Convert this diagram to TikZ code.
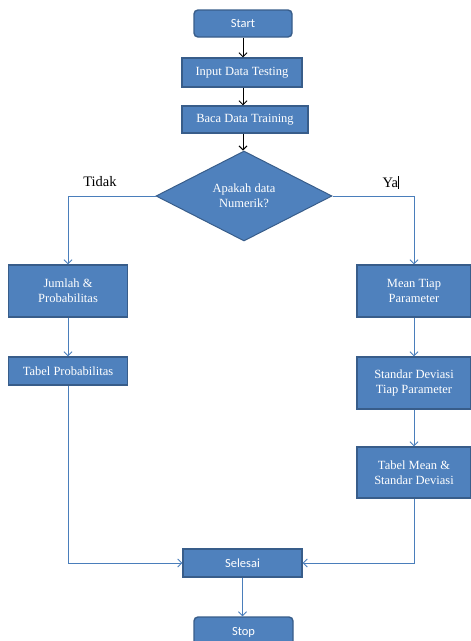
\documentclass[tikz,border=0pt]{standalone}
\usepackage{fontspec}
\setmainfont{Liberation Serif}
\newfontfamily\calfont{Carlito}
\usetikzlibrary{shapes.geometric,arrows.meta}
\definecolor{boxfill}{HTML}{4F81BD}
\definecolor{boxedge}{HTML}{385D8A}
\definecolor{linkblue}{HTML}{4A7EBB}
\begin{document}
\begin{tikzpicture}[x=1pt,y=-1pt,
  every node/.style={inner sep=0pt},
  proc/.style={rectangle,fill=boxfill,draw=boxedge,line width=1.4pt,text=white,
    align=center,font=\fontsize{12.5}{15}\selectfont},
  term/.style={proc,rounded corners=4pt,font=\calfont\fontsize{12.5}{15}\selectfont},
  decis/.style={diamond,fill=boxfill,draw=boxedge,line width=1pt,text=white,
    align=center,font=\fontsize{12.5}{15}\selectfont,minimum width=176pt,minimum height=90pt,aspect=1.95},
  blk/.style={draw=black,line width=0.9pt,-{Straight Barb[length=4pt,width=8pt]}},
  blu/.style={draw=linkblue,line width=0.9pt,-{Straight Barb[length=4pt,width=8pt]}},
  lab/.style={font=\fontsize{14.5}{15}\selectfont,text=black}]
\useasboundingbox (0,0) rectangle (471,641);
\node[term,minimum width=98pt,minimum height=27pt] (start) at (243,23.5) {Start};
\node[proc,minimum width=120pt,minimum height=29pt] (input) at (242,72.5) {Input Data Testing};
\node[proc,minimum width=126pt,minimum height=27pt] (baca) at (245,119.5) {Baca Data Training};
\node[decis] (dia) at (244,196) {Apakah data\\Numerik?};
\node[proc,minimum width=119pt,minimum height=52pt] (jumlah) at (68,291) {Jumlah \&\\Probabilitas};
\node[proc,minimum width=119pt,minimum height=28pt] (tabelp) at (68,371) {Tabel Probabilitas};
\node[proc,minimum width=114pt,minimum height=52pt] (mean) at (414,291) {Mean Tiap\\Parameter};
\node[proc,minimum width=114pt,minimum height=52pt] (std) at (414,383) {Standar Deviasi\\Tiap Parameter};
\node[proc,minimum width=114pt,minimum height=51pt] (tabm) at (414,472.5) {Tabel Mean \&\\Standar Deviasi};
\node[term,font=\calfont\fontsize{12.5}{15}\selectfont,rounded corners=0pt,minimum width=119pt,minimum height=28pt] (selesai) at (242.5,563) {Selesai};
\node[term,minimum width=99pt,minimum height=30pt] (stop) at (243.5,632) {Stop};
\node[lab] (tidak) at (100,182) {Tidak};
\node[lab] (ya) at (391,182) {Ya\rule[-1.5pt]{1.2pt}{13pt}};
\draw[blk] (start.south) -- (start.south |- input.north);
\draw[blk] (start.south |- input.south) -- (start.south |- baca.north);
\draw[blk] (start.south |- baca.south) -- (start.south |- dia.north);
\draw[blu] (dia.west) -| (jumlah.north);
\draw[blu] (dia.east) -| (mean.north);
\draw[blu] (jumlah) -- (tabelp);
\draw[blu] (mean) -- (std);
\draw[blu] (std) -- (tabm);
\draw[blu] (tabelp.south) |- (selesai.west);
\draw[blu] (tabm.south) |- (selesai.east);
\draw[blu] (selesai.south) -- (selesai.south |- stop.north);
\end{tikzpicture}
\end{document}
